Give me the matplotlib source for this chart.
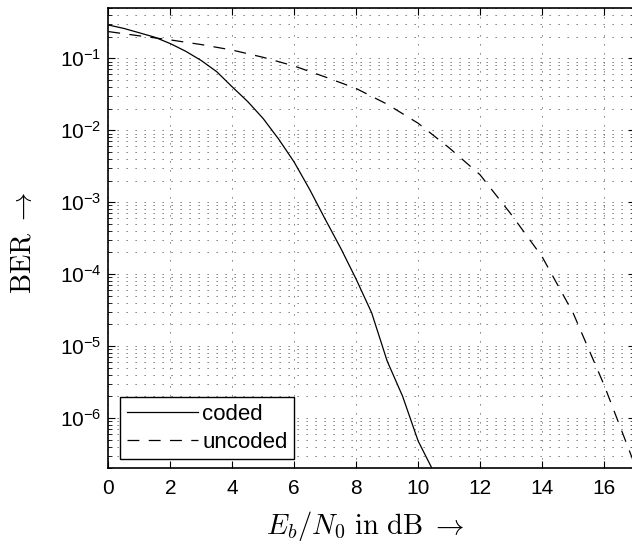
import numpy as np
import matplotlib
matplotlib.use("Agg")
import matplotlib.pyplot as plt
from matplotlib.ticker import LogLocator, FixedLocator, FuncFormatter, NullFormatter

plt.rcParams["font.family"] = ["Liberation Sans", "DejaVu Sans"]
plt.rcParams["mathtext.fontset"] = "custom"
plt.rcParams["mathtext.rm"] = "Liberation Sans"
plt.rcParams["mathtext.it"] = "Liberation Sans:italic"
plt.rcParams["mathtext.bf"] = "Liberation Sans:bold"

# Eb/N0 in dB
ebn0_coded = [0, 0.5, 1, 1.5, 2, 2.5, 3, 3.5, 4, 4.5, 5, 5.5, 6, 6.5, 7, 7.5, 8, 8.5, 9, 9.5, 10, 10.5]
ber_coded = [0.29, 0.26, 0.226, 0.196, 0.16, 0.125, 0.093, 0.065, 0.040, 0.025, 0.0145, 0.0075,
             0.0036, 0.0015, 5.8e-4, 2.3e-4, 8.5e-5, 2.9e-5, 6.2e-6, 2.0e-6, 4.8e-7, 1.8e-7]

ebn0_uncoded = [0, 1, 2, 3, 4, 5, 6, 7, 8, 9, 10, 11, 12, 13, 14, 15, 16, 17]
ber_uncoded = [0.235, 0.205, 0.18, 0.155, 0.13, 0.103, 0.078, 0.055, 0.038, 0.023, 0.0125,
               0.0057, 0.0024, 6.8e-4, 1.75e-4, 2.9e-5, 2.9e-6, 2.2e-7]

xticks = [0, 2, 4, 6, 8, 10, 12, 14, 16]
yticks = [1e-6, 1e-5, 1e-4, 1e-3, 1e-2, 1e-1]

fig = plt.figure(figsize=(6.32, 5.54), dpi=100)
ax = fig.add_axes([0.1714, 0.1547, 0.8333, 0.8309])

ax.semilogy(ebn0_coded, ber_coded, color="black", linestyle="-", linewidth=0.9, label="coded")
ax.semilogy(ebn0_uncoded, ber_uncoded, color="black", linestyle=(0, (9.5, 7.5)), linewidth=0.9, label="uncoded")

ax.set_xlim(0, 17)
ax.set_ylim(2e-7, 0.5)
ax.xaxis.set_major_locator(FixedLocator(xticks))
ax.yaxis.set_major_locator(FixedLocator(yticks))
ax.yaxis.set_minor_locator(LogLocator(base=10, subs=np.arange(2, 10)))
ax.yaxis.set_minor_formatter(NullFormatter())
ax.yaxis.set_major_formatter(FuncFormatter(lambda v, p: r"$10^{%d}$" % round(np.log10(v))))

ax.tick_params(which="both", direction="in", top=True, right=True, labelsize=15, colors="black")
ax.tick_params(which="major", length=5, width=0.8)
ax.tick_params(axis="x", which="major", pad=8)
ax.tick_params(axis="y", which="major", pad=5)
ax.tick_params(which="minor", length=3, width=0.6)

dots = (0, (1.5, 9.3))
ax.grid(True, which="major", axis="both", color="0.3", linestyle=dots, linewidth=0.6)
ax.grid(True, which="minor", axis="y", color="0.3", linestyle=dots, linewidth=0.6)

for s in ax.spines.values():
    s.set_linewidth(1.2)

ax.set_xlabel(r"$E_b/N_0\ \mathrm{in\ dB}\ \rightarrow$", fontsize=20.5, math_fontfamily="cm")
ax.set_ylabel(r"$\mathrm{BER}\ \rightarrow$", fontsize=20.5, math_fontfamily="cm")
ax.xaxis.set_label_coords(0.489, -0.089)
ax.yaxis.set_label_coords(-0.136, 0.49)

leg = ax.legend(loc="lower left", bbox_to_anchor=(0.022, 0.0196), borderaxespad=0, fontsize=16,
                fancybox=False, framealpha=1, edgecolor="black", handlelength=3.2,
                handletextpad=0.2, borderpad=0.3, labelspacing=0.3)
leg.get_frame().set_linewidth(1.0)

fig.savefig("out.png", dpi=100)
